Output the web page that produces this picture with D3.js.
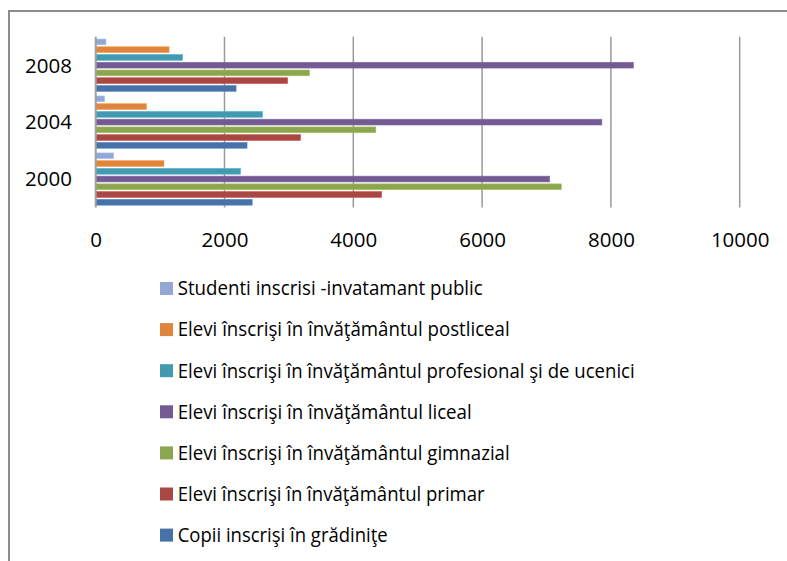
<!DOCTYPE html>
<html>
<head>
<meta charset="utf-8">
<script src="https://cdn.jsdelivr.net/npm/d3@7"></script>
<style>
  body { margin: 0; background: #fff; }
  svg { display: block; }
</style>
</head>
<body>
<script>
var width = 787;
var height = 561;

// categories, top to bottom
var years = ["2008", "2004", "2000"];

// series names, in the order they sit inside each group (top to bottom)
var seriesNames = [
  "Studenti inscrisi -invatamant public",
  "Elevi înscrişi în învăţământul postliceal",
  "Elevi înscrişi în învăţământul profesional şi de ucenici",
  "Elevi înscrişi în învăţământul liceal",
  "Elevi înscrişi în învăţământul gimnazial",
  "Elevi înscrişi în învăţământul primar",
  "Copii inscrişi în grădiniţe"
];

// values per series, for years 2008, 2004, 2000
var studenti    = [160, 140, 280];
var postliceal  = [1140, 790, 1060];
var profesional = [1350, 2590, 2250];
var liceal      = [8350, 7860, 7050];
var gimnazial   = [3320, 4350, 7230];
var primar      = [2980, 3180, 4440];
var gradinite   = [2180, 2350, 2430];

var xTicks = [0, 2000, 4000, 6000, 8000, 10000];

var colors = ["#93a9d4", "#e0853e", "#4299b0", "#735a92", "#8ba64e", "#a94744", "#4772a8"];

var seriesValues = [studenti, postliceal, profesional, liceal, gimnazial, primar, gradinite];

var font = "'Open Sans', 'Liberation Sans', sans-serif";

var svg = d3.select("body").append("svg")
    .attr("width", width)
    .attr("height", height);

// chart frame (cut by the window on right and bottom)
svg.append("rect")
    .attr("x", 9)
    .attr("y", 11)
    .attr("width", width + 20)
    .attr("height", height + 20)
    .attr("fill", "none")
    .attr("stroke", "#8c8c8c")
    .attr("stroke-width", 2);

var x = d3.scaleLinear()
    .domain([0, 10000])
    .range([95.7, 739.7]);

var y = d3.scaleBand()
    .domain(years)
    .range([36.7, 207.5])
    .padding(0);

var ySub = d3.scaleBand()
    .domain(d3.range(seriesNames.length))
    .range([0, y.bandwidth()])
    .paddingInner(0.25)
    .paddingOuter(0.3);

// gridlines
svg.append("g")
  .selectAll("line")
  .data(xTicks.slice(1))
  .enter()
    .append("line")
    .attr("x1", function (d) { return x(d); })
    .attr("x2", function (d) { return x(d); })
    .attr("y1", 36.7)
    .attr("y2", 207.5)
    .attr("stroke", "#9a9a9a")
    .attr("stroke-width", 1.5);

// bars
var rows = [];
years.forEach(function (yr, i) {
  seriesValues.forEach(function (vals, s) {
    rows.push({ year: yr, s: s, value: vals[i] });
  });
});

svg.append("g")
  .selectAll("rect")
  .data(rows)
  .enter()
    .append("rect")
    .attr("x", x(0))
    .attr("y", function (d) { return y(d.year) + ySub(d.s); })
    .attr("width", function (d) { return x(d.value) - x(0); })
    .attr("height", ySub.bandwidth())
    .attr("fill", function (d) { return colors[d.s]; })
    .attr("stroke", function (d) { return d3.color(colors[d.s]).brighter(0.5); })
    .attr("stroke-width", 0.6);

// vertical axis line
svg.append("line")
    .attr("x1", x(0))
    .attr("x2", x(0))
    .attr("y1", 36.7)
    .attr("y2", 207.5)
    .attr("stroke", "#a0a0a0")
    .attr("stroke-width", 2);

// x tick labels
var xAxis = d3.axisBottom(x)
    .tickValues(xTicks)
    .tickSize(0)
    .tickPadding(0)
    .tickFormat(d3.format("d"));

var gx = svg.append("g")
    .attr("transform", "translate(0, 232)")
    .call(xAxis);
gx.select(".domain").remove();
gx.selectAll("text")
    .attr("dy", "0.71em")
    .attr("y", 0)
    .style("font-family", font)
    .style("font-size", "20.5px")
    .attr("fill", "#000");

// y category labels
var yAxis = d3.axisLeft(y).tickSize(0).tickPadding(0);
var gy = svg.append("g")
    .attr("transform", "translate(72, 0)")
    .call(yAxis);
gy.select(".domain").remove();
gy.selectAll("text")
    .attr("dy", "0.36em")
    .style("font-family", font)
    .style("font-size", "20.5px")
    .attr("fill", "#000");

// legend
var legendWidths = [305, 332, 457, 294, 332, 307, 210];
var legend = svg.append("g")
  .selectAll("g")
  .data(seriesNames)
  .enter()
    .append("g")
    .attr("transform", function (d, i) { return "translate(160," + (288.5 + i * 41.1) + ")"; });

legend.append("rect")
    .attr("x", 0)
    .attr("y", -6.5)
    .attr("width", 13)
    .attr("height", 13)
    .attr("fill", function (d, i) { return colors[i]; });

legend.append("text")
    .attr("x", 17.7)
    .attr("y", 6.8)
    .style("font-family", font)
    .style("font-size", "19.5px")
    .attr("fill", "#000")
    .attr("textLength", function (d, i) { return legendWidths[i]; })
    .attr("lengthAdjust", "spacingAndGlyphs")
    .text(function (d) { return d; });
</script>
</body>
</html>
